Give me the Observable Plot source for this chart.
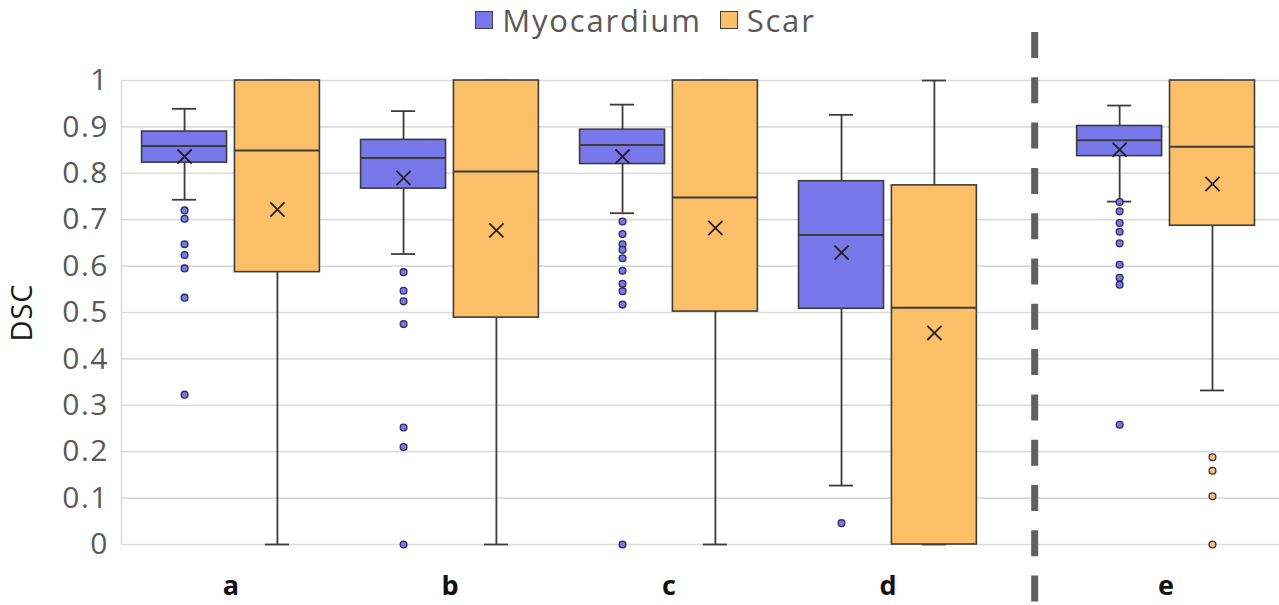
<!DOCTYPE html>
<html>
<head>
<meta charset="utf-8">
<script src="https://cdn.jsdelivr.net/npm/d3@7"></script>
<script src="https://cdn.jsdelivr.net/npm/@observablehq/plot@0.6"></script>
<style>
  html, body { margin: 0; padding: 0; background: #fff; }
  #wrap { position: relative; width: 1279px; height: 605px; font-family: "Open Sans", sans-serif; }
  #legend { position: absolute; top: 0; left: 0; width: 1279px; height: 40px; display: flex; justify-content: center; align-items: center; gap: 18px; color: #595959; font-size: 31px; letter-spacing: 1.8px; padding-left: 12px; box-sizing: border-box; }
  .item { display: flex; align-items: center; gap: 9px; }
  .sw { width: 16px; height: 16px; border: 1.5px solid #404040; }
  #chart { position: absolute; top: 0; left: 0; }
  #chart svg [aria-label="y-axis tick label"] { letter-spacing: 1.5px; }
  #chart svg [aria-label="y-axis label"] { letter-spacing: 1px; }
</style>
</head>
<body>
<div id="wrap">
  <div id="chart"></div>
  <div id="legend"></div>
</div>
<script>
// ---- data ----
const categories = ["a", "b", "c", "d", "e"];
const categoryPos = [0, 1, 2, 3, 4.27];   // e is set apart by the divider
const separatorPos = 3.67;
const series = ["Myocardium", "Scar"];
const seriesColors = ["#7878ea", "#fdc068"];
const yTicks = [0, 0.1, 0.2, 0.3, 0.4, 0.5, 0.6, 0.7, 0.8, 0.9, 1];

// Myocardium box statistics per category
const myoLow    = [0.743, 0.626, 0.714, 0.127, 0.739];
const myoQ1     = [0.823, 0.767, 0.820, 0.508, 0.837];
const myoMedian = [0.859, 0.833, 0.861, 0.667, 0.871];
const myoQ3     = [0.890, 0.872, 0.894, 0.783, 0.902];
const myoHigh   = [0.939, 0.934, 0.948, 0.926, 0.946];
const myoMean   = [0.836, 0.790, 0.836, 0.629, 0.851];
const myoOutliers = [
  [0.720, 0.702, 0.647, 0.624, 0.595, 0.532, 0.323],
  [0.587, 0.547, 0.524, 0.475, 0.252, 0.210, 0.0],
  [0.696, 0.669, 0.647, 0.635, 0.617, 0.590, 0.562, 0.546, 0.517, 0.0],
  [0.046],
  [0.738, 0.718, 0.693, 0.674, 0.649, 0.603, 0.575, 0.560, 0.258]
];

// Scar box statistics per category
const scarLow    = [0.0, 0.0, 0.0, 0.0, 0.332];
const scarQ1     = [0.587, 0.489, 0.502, 0.0, 0.687];
const scarMedian = [0.849, 0.804, 0.748, 0.510, 0.857];
const scarQ3     = [1.0, 1.0, 1.0, 0.774, 1.0];
const scarHigh   = [1.0, 1.0, 1.0, 1.0, 1.0];
const scarMean   = [0.722, 0.677, 0.682, 0.456, 0.777];
const scarOutliers = [[], [], [], [], [0.188, 0.159, 0.104, 0.0]];

// ---- build tables ----
const seriesOffset = 0.212, boxHalf = 0.194, capHalf = 0.055;
const stats = [
  {low: myoLow, q1: myoQ1, med: myoMedian, q3: myoQ3, high: myoHigh, mean: myoMean, out: myoOutliers},
  {low: scarLow, q1: scarQ1, med: scarMedian, q3: scarQ3, high: scarHigh, mean: scarMean, out: scarOutliers}
];
const boxes = [], outliers = [];
series.forEach((s, si) => {
  const st = stats[si];
  categories.forEach((c, ci) => {
    const pos = categoryPos[ci] + (si === 0 ? -seriesOffset : seriesOffset);
    boxes.push({series: s, cat: c, pos, low: st.low[ci], q1: st.q1[ci], med: st.med[ci], q3: st.q3[ci], high: st.high[ci], mean: st.mean[ci]});
    st.out[ci].forEach(v => outliers.push({series: s, cat: c, pos, value: v}));
  });
});

const dark = "#3c3c3c";
const chart = Plot.plot({
  width: 1279,
  height: 605,
  marginLeft: 121,
  marginRight: 0,
  marginTop: 80,
  marginBottom: 61,
  style: {fontFamily: "Open Sans, sans-serif", fontSize: "30px", color: "#595959", background: "white", overflow: "visible"},
  x: {domain: [-0.5, 4.788]},
  y: {domain: [0, 1]},
  color: {domain: series, range: seriesColors},
  marks: [
    Plot.gridY(yTicks, {stroke: "#dcdcdc", strokeOpacity: 1, strokeWidth: 1.6}),
    Plot.ruleX([-0.5], {stroke: "#dcdcdc", strokeWidth: 1.6}),
    Plot.axisY({ticks: yTicks, tickFormat: d3.format("~g"), tickSize: 0, tickPadding: 12.5, label: null, fontSize: 30, fill: "#595959"}),
    Plot.axisY({ticks: [], label: "DSC", labelAnchor: "center", labelArrow: "none", labelOffset: 110, fontSize: 29, fill: "#1a1a1a"}),
    Plot.axisX({ticks: categoryPos, tickFormat: d => categories[categoryPos.indexOf(d)], tickSize: 0, tickPadding: 31, label: null, fontSize: 27, fontWeight: "bold", fill: "#111"}),
    // whiskers
    Plot.ruleX(boxes, {x: "pos", y1: "low", y2: "q1", stroke: dark, strokeWidth: 1.8}),
    Plot.ruleX(boxes, {x: "pos", y1: "q3", y2: "high", stroke: dark, strokeWidth: 1.8}),
    Plot.ruleY(boxes, {y: "low", x1: d => d.pos - capHalf, x2: d => d.pos + capHalf, stroke: dark, strokeWidth: 1.8}),
    Plot.ruleY(boxes, {y: "high", x1: d => d.pos - capHalf, x2: d => d.pos + capHalf, stroke: dark, strokeWidth: 1.8}),
    // boxes
    Plot.rect(boxes, {x1: d => d.pos - boxHalf, x2: d => d.pos + boxHalf, y1: "q1", y2: "q3", fill: "series", stroke: dark, strokeWidth: 1.6}),
    Plot.ruleY(boxes, {y: "med", x1: d => d.pos - boxHalf, x2: d => d.pos + boxHalf, stroke: dark, strokeWidth: 2}),
    // mean
    Plot.dot(boxes, {x: "pos", y: "mean", symbol: "times", r: 6.5, stroke: "#222", strokeWidth: 1.8}),
    // outliers
    Plot.dot(outliers, {x: "pos", y: "value", r: 3.4, fill: "series", stroke: "#2b2b55", strokeWidth: 1.3}),
    // divider
    Plot.ruleX([separatorPos], {stroke: "#606060", strokeWidth: 7, strokeDasharray: "26,19.3", insetTop: -48, insetBottom: -61})
  ]
});
document.getElementById("chart").appendChild(chart);

// legend
const legend = document.getElementById("legend");
series.forEach((s, i) => {
  const item = document.createElement("div");
  item.className = "item";
  const sw = document.createElement("span");
  sw.className = "sw";
  sw.style.background = seriesColors[i];
  const t = document.createElement("span");
  t.textContent = s;
  item.appendChild(sw);
  item.appendChild(t);
  legend.appendChild(item);
});
</script>
</body>
</html>
